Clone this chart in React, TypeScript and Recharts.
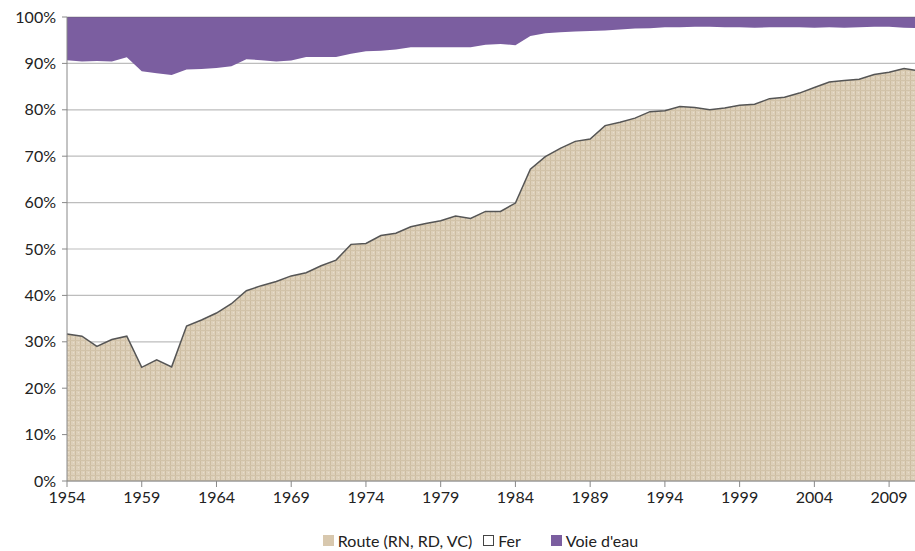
import { AreaChart, Area, XAxis, YAxis, CartesianGrid, Legend } from 'recharts';

const years = [
  1954, 1955, 1956, 1957, 1958, 1959, 1960, 1961, 1962, 1963, 1964, 1965, 1966, 1967, 1968, 1969,
  1970, 1971, 1972, 1973, 1974, 1975, 1976, 1977, 1978, 1979, 1980, 1981, 1982, 1983, 1984, 1985,
  1986, 1987, 1988, 1989, 1990, 1991, 1992, 1993, 1994, 1995, 1996, 1997, 1998, 1999, 2000, 2001,
  2002, 2003, 2004, 2005, 2006, 2007, 2008, 2009, 2010, 2011,
];

// parts modales en %
const route = [
  31.7, 31.2, 29.0, 30.5, 31.2, 24.5, 26.1, 24.6, 33.4, 34.7, 36.2, 38.2, 41.0, 42.1, 43.0, 44.2,
  44.9, 46.4, 47.6, 51.0, 51.2, 52.9, 53.4, 54.8, 55.5, 56.1, 57.1, 56.6, 58.1, 58.1, 59.9, 67.2,
  69.9, 71.7, 73.2, 73.7, 76.6, 77.3, 78.2, 79.6, 79.8, 80.7, 80.5, 80.0, 80.4, 81.0, 81.2, 82.4,
  82.7, 83.6, 84.8, 86.0, 86.3, 86.6, 87.6, 88.1, 88.9, 88.4,
];

const fer = [
  59.0, 59.2, 61.5, 59.9, 60.1, 63.8, 61.8, 62.9, 55.3, 54.1, 52.8, 51.2, 49.9, 48.6, 47.4, 46.4,
  46.5, 45.0, 43.8, 41.1, 41.4, 39.8, 39.6, 38.7, 38.0, 37.4, 36.4, 36.9, 35.9, 36.1, 34.0, 28.7,
  26.6, 25.0, 23.7, 23.3, 20.5, 20.0, 19.3, 18.0, 18.0, 17.1, 17.4, 17.9, 17.4, 16.8, 16.5, 15.4,
  15.1, 14.2, 12.9, 11.8, 11.4, 11.2, 10.3, 9.8, 8.8, 9.2,
];

const voieEau = [
  9.3, 9.6, 9.5, 9.6, 8.7, 11.7, 12.1, 12.5, 11.3, 11.2, 11.0, 10.6, 9.1, 9.3, 9.6, 9.4,
  8.6, 8.6, 8.6, 7.9, 7.4, 7.3, 7.0, 6.5, 6.5, 6.5, 6.5, 6.5, 6.0, 5.8, 6.1, 4.1,
  3.5, 3.3, 3.1, 3.0, 2.9, 2.7, 2.5, 2.4, 2.2, 2.2, 2.1, 2.1, 2.2, 2.2, 2.3, 2.2,
  2.2, 2.2, 2.3, 2.2, 2.3, 2.2, 2.1, 2.1, 2.3, 2.4,
];

const yTicks = [0, 10, 20, 30, 40, 50, 60, 70, 80, 90, 100];

const data = years.map((y, i) => ({
  year: String(y),
  route: route[i],
  fer: fer[i],
  voie: voieEau[i],
}));

const font = 'Lato, "Open Sans", sans-serif';

const legendItems = [
  { label: 'Route (RN, RD, VC)', fill: '#d8c8ae', border: '#d8c8ae', after: 11 },
  { label: 'Fer', fill: '#ffffff', border: '#444', after: 30 },
  { label: "Voie d'eau", fill: '#7b5ea0', border: '#7b5ea0', after: 0 },
];

function LegendBox() {
  return (
    <div
      style={{
        display: 'flex',
        justifyContent: 'center',
        fontFamily: font,
        fontSize: 16,
        color: '#222',
        paddingLeft: 42,
        paddingTop: 14,
      }}
    >
      {legendItems.map((it) => (
        <span
          key={it.label}
          style={{ display: 'flex', alignItems: 'center', gap: 4, marginRight: it.after }}
        >
          <span
            style={{
              width: 9,
              height: 9,
              background: it.fill,
              border: `1px solid ${it.border}`,
              display: 'inline-block',
            }}
          />
          {it.label}
        </span>
      ))}
    </div>
  );
}

export default function App() {
  return (
    <div
      style={{
        position: 'fixed',
        left: 0,
        top: 0,
        width: 915,
        height: 551,
        overflow: 'hidden',
        background: '#fff',
      }}
    >
      <AreaChart
        width={925}
        height={551}
        data={data}
        margin={{ top: 17, right: 6, bottom: 0, left: 0 }}
      >
        <defs>
          <pattern id="linen" width="5" height="5" patternUnits="userSpaceOnUse">
            <rect width="5" height="5" fill="#ddd0ba" />
            <rect x="0" y="0" width="1" height="5" fill="#cdbda2" />
            <rect x="0" y="0" width="5" height="1" fill="#d2c3a9" />
            <rect x="3" y="2" width="1" height="1" fill="#e9decb" />
          </pattern>
        </defs>
        <CartesianGrid vertical={false} stroke="#bdbdbd" strokeWidth={1.2} />
        <XAxis
          dataKey="year"
          interval={4}
          stroke="#888"
          tick={{ fill: '#222', fontSize: 16, fontFamily: font }}
          tickSize={6}
          tickMargin={5}
          height={36}
        />
        <YAxis
          domain={[0, 100]}
          ticks={yTicks}
          width={67}
          stroke="#888"
          tickSize={5}
          tickMargin={6}
          tickFormatter={(v: number) => `${v}%`}
          tick={{ fill: '#222', fontSize: 16, fontFamily: font }}
          allowDataOverflow
        />
        <Legend verticalAlign="bottom" height={34} content={() => <LegendBox />} />
        <Area
          type="linear"
          dataKey="route"
          stackId="a"
          fill="url(#linen)"
          fillOpacity={1}
          stroke="#555"
          strokeWidth={1.5}
          isAnimationActive={false}
        />
        <Area
          type="linear"
          dataKey="fer"
          stackId="a"
          fill="#fff"
          fillOpacity={0}
          stroke="none"
          isAnimationActive={false}
        />
        <Area
          type="linear"
          dataKey="voie"
          stackId="a"
          fill="#7b5ea0"
          fillOpacity={1}
          stroke="#6a5a7a"
          strokeWidth={0.8}
          isAnimationActive={false}
        />
      </AreaChart>
    </div>
  );
}
